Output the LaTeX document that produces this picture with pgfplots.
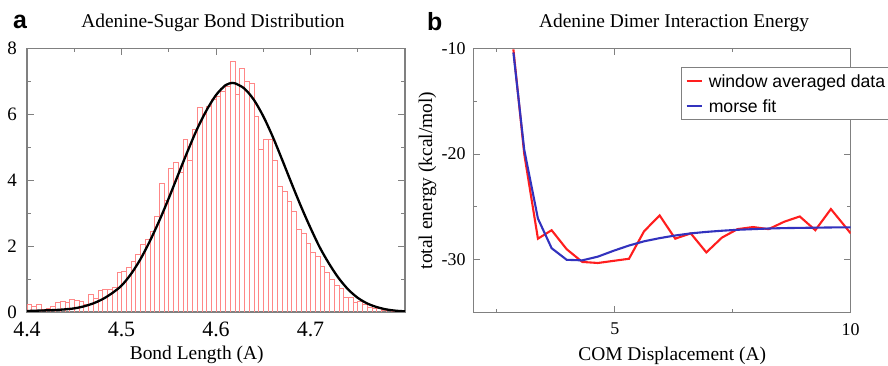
\documentclass[border=0pt]{standalone}
\usepackage{pgfplots}
\pgfplotsset{compat=1.18}
\usepackage{fontspec}
\setmainfont{Liberation Serif}
\newfontfamily\sansfont{Liberation Sans}
\definecolor{axgray}{RGB}{128,128,128}
\definecolor{histred}{RGB}{255,135,135}
\definecolor{datared}{RGB}{255,30,30}
\definecolor{fitblue}{RGB}{50,50,190}
\pgfplotsset{
  myaxis/.style={
    scale only axis,
    axis line style={draw=axgray, line width=1.1bp},
    tick align=inside,
    every tick/.style={axgray, line width=0.9bp},
    major tick length=7bp,
    minor tick length=4bp,
    /pgf/number format/assume math mode=true,
    every axis title/.style={anchor=base, inner sep=0pt, font=\fontsize{19.5}{22}\selectfont},
    every axis x label/.style={anchor=base, inner sep=0pt, font=\fontsize{19.5}{22}\selectfont},
    every axis y label/.style={anchor=base, rotate=90, inner sep=0pt, font=\fontsize{19.5}{22}\selectfont},
  }
}
\pgfplotstableread{
x y
4.400 0.22
4.405 0.18
4.410 0.22
4.415 0.08
4.420 0.12
4.425 0.18
4.430 0.30
4.435 0.32
4.440 0.30
4.445 0.40
4.450 0.35
4.455 0.32
4.460 0.22
4.465 0.55
4.470 0.42
4.475 0.65
4.480 0.70
4.485 0.68
4.490 0.75
4.495 1.22
4.500 1.25
4.505 1.35
4.510 1.55
4.515 1.75
4.520 2.05
4.525 2.20
4.530 2.45
4.535 2.90
4.540 3.90
4.545 3.40
4.550 4.35
4.555 4.55
4.560 4.25
4.565 5.25
4.570 4.60
4.575 5.55
4.580 6.22
4.585 6.00
4.590 6.25
4.595 6.45
4.600 6.55
4.605 6.70
4.610 6.85
4.615 7.62
4.620 6.62
4.625 7.40
4.630 7.00
4.635 6.93
4.640 5.95
4.645 4.95
4.650 5.25
4.655 5.25
4.660 4.60
4.665 3.80
4.670 3.65
4.675 3.35
4.680 3.05
4.685 2.50
4.690 2.40
4.695 2.10
4.700 1.80
4.705 1.70
4.710 1.40
4.715 1.20
4.720 1.00
4.725 0.82
4.730 0.72
4.735 0.46
4.740 0.46
4.745 0.30
4.750 0.32
4.755 0.22
4.760 0.15
4.765 0.10
4.770 0.12
4.775 0.05
4.780 0.04
4.785 0.02
4.790 0.01
4.795 0.00
4.800 0.00
}\histdata
\begin{document}
\begin{tikzpicture}
\useasboundingbox (0,0) rectangle (888bp,366bp);
% ---------- panel a ----------
\begin{axis}[myaxis,
  at={(27bp,54bp)}, anchor=south west,
  width=378bp, height=263.7bp,
  xmin=4.4, xmax=4.8, ymin=0, ymax=8,
  xtick={4.4,4.5,4.6,4.7}, minor xtick={4.45,4.55,4.65,4.75},
  ytick={0,2,4,6,8}, minor ytick={1,3,5,7},
  xticklabel style={font=\fontsize{22}{24}\selectfont, inner sep=0pt, yshift=-9.7bp},
  yticklabel style={font=\fontsize{19}{22}\selectfont, inner sep=0pt, xshift=-10bp},
  title={Adenine-Sugar Bond Distribution},
  title style={at={(axis description cs:0.492,1.077)}},
  xlabel={Bond Length (A)},
  xlabel style={at={(axis description cs:0.449,-0.182)}},
]
\addplot[ybar interval, draw=histred, fill=none, line width=0.55bp] table[x=x,y=y] {\histdata};
\addplot[black, line width=2.3bp, smooth] coordinates {
(4.40,0.03) (4.41,0.04) (4.42,0.05) (4.43,0.06) (4.44,0.08) (4.45,0.11)
(4.46,0.17) (4.47,0.26) (4.48,0.39) (4.49,0.57) (4.50,0.80) (4.51,1.15)
(4.52,1.60) (4.53,2.15) (4.54,2.77) (4.55,3.45) (4.56,4.17) (4.57,4.88)
(4.58,5.55) (4.59,6.12) (4.60,6.58) (4.61,6.88) (4.617,6.95) (4.62,6.94)
(4.63,6.78) (4.64,6.44) (4.65,5.94) (4.66,5.32) (4.67,4.62) (4.68,3.90)
(4.69,3.20) (4.70,2.55) (4.71,1.95) (4.72,1.45) (4.73,1.02) (4.74,0.68)
(4.75,0.43) (4.76,0.26) (4.77,0.15) (4.78,0.08) (4.79,0.04) (4.80,0.02)
};
\end{axis}
% ---------- panel b ----------
\begin{axis}[myaxis,
  at={(473.3bp,53.3bp)}, anchor=south west,
  width=377.4bp, height=264.4bp,
  xmin=2, xmax=10, ymin=-35, ymax=-10,
  xtick={5,10}, minor xtick={2.5,7.5},
  ytick={-30,-20,-10}, minor ytick={-25,-15},
  xticklabel style={font=\fontsize{18}{20}\selectfont, inner sep=0pt, yshift=-10.3bp},
  yticklabel style={font=\fontsize{18}{20}\selectfont, inner sep=0pt, xshift=-7.6bp},
  title={Adenine Dimer Interaction Energy},
  title style={at={(axis description cs:0.532,1.077)}},
  xlabel={COM Displacement (A)},
  xlabel style={at={(axis description cs:0.527,-0.179)}},
  ylabel={total energy (kcal/mol)},
  ylabel style={at={(axis description cs:-0.1094,0.5)}},
  legend cell align=left,
  legend image code/.code={\draw[#1] (0bp,0bp) -- (15bp,0bp); \path (19bp,0bp);},
  legend style={at={(axis description cs:0.5511,0.930)}, anchor=north west,
    draw=axgray, line width=0.8bp, fill=white,
    font=\sansfont\fontsize{17.7}{20}\selectfont,
    inner xsep=4bp, inner ysep=3.6bp, row sep=3.4bp,
    nodes={inner sep=2bp, text height=15bp, text depth=2bp}},
]
\addplot[datared, line width=2.1bp] coordinates {
(2.85,-10.1) (3.08,-20.0) (3.37,-28.0) (3.66,-27.2) (3.98,-29.0) (4.31,-30.2)
(4.64,-30.3) (4.97,-30.1) (5.30,-29.9) (5.62,-27.3) (5.95,-25.8) (6.28,-28.0)
(6.61,-27.5) (6.94,-29.3) (7.27,-27.9) (7.60,-27.1) (7.93,-26.9) (8.26,-27.1)
(8.59,-26.4) (8.92,-25.9) (9.25,-27.2) (9.58,-25.2) (9.91,-27.0) (10.0,-27.5)
};
\addlegendentry{window averaged data}
\addplot[fitblue, line width=2.1bp] coordinates {
(2.85,-10.4) (3.08,-19.6) (3.37,-26.1) (3.66,-28.9) (3.98,-30.0) (4.31,-30.05)
(4.64,-29.7) (4.97,-29.15) (5.30,-28.65) (5.62,-28.25) (5.95,-27.95) (6.28,-27.7)
(6.61,-27.5) (6.94,-27.36) (7.27,-27.25) (7.60,-27.16) (7.93,-27.1) (8.26,-27.04)
(8.59,-27.0) (8.92,-26.98) (9.25,-26.96) (9.58,-26.94) (9.91,-26.93) (10.0,-26.93)
};
\addlegendentry{morse fit}
\end{axis}
\node[anchor=base west, inner sep=0pt, font=\sansfont\bfseries\fontsize{25}{28}\selectfont] at (13bp,337bp) {a};
\node[anchor=base west, inner sep=0pt, font=\sansfont\bfseries\fontsize{25}{28}\selectfont] at (427bp,335bp) {b};
\end{tikzpicture}
\end{document}
